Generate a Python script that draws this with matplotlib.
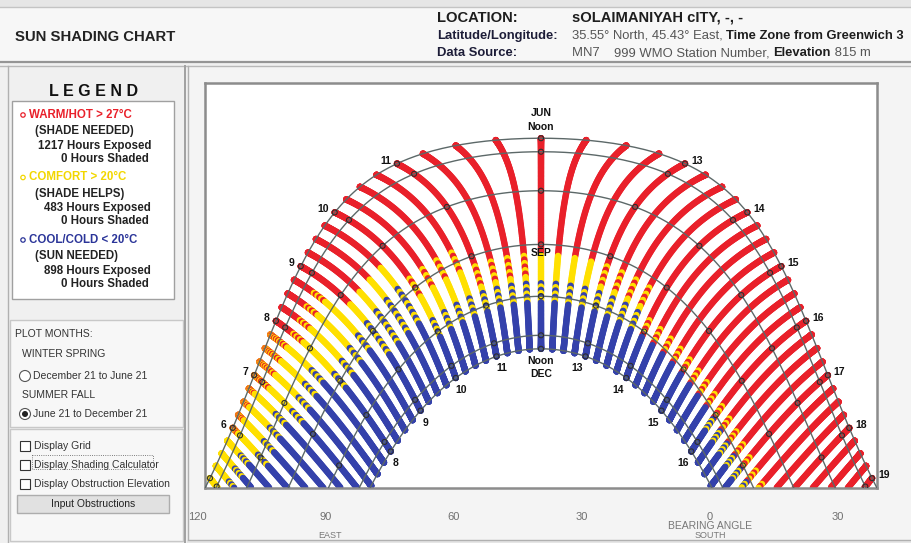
import numpy as np
import matplotlib.pyplot as plt
from matplotlib.patches import Rectangle, Circle

plt.rcParams['font.family'] = ['Liberation Sans', 'DejaVu Sans']

# site
latitude = 35.55

# plotted period: June 21 (day 172) to December 21 (day 355)
first_day = 172
last_day = 355
arc_days = [172, 202, 233, 264, 294, 325, 355]   # 21st of Jun..Dec
hour_lines = list(range(5, 20))
june_labels = [6, 7, 8, 9, 10, 11, 13, 14, 15, 16, 17, 18, 19]
dec_labels = [8, 9, 10, 11, 13, 14, 15, 16]

# temperature class, per two-week period (rows, Jun 21 -> Dec 21)
# and per hour 4..19 (columns). R hot, Y comfort, B cold, O red/yellow mix, G yellow/blue mix
temp_class = [
    "YYOORRRRRRRRRRRR",
    "YYOORRRRRRRRRRRR",
    "YYYORRRRRRRRRRRR",
    "GGYYORRRRRRRRRRR",
    "BBGYYRRRRRRRRRRR",
    "BBBGYYRRRRRRRRRR",
    "BBBBGGORRRRRRRRR",
    "BBBBBGYOYORRRROO",
    "BBBBBBGGGGOOOOOO",
    "BBBBBBBBBBBBGGYY",
    "BBBBBBBBBBBBBBGG",
    "BBBBBBBBBBBBBBBB",
    "BBBBBBBBBBBBBBBB",
]

legend_names = ['WARM/HOT > 27°C', 'COMFORT > 20°C', 'COOL/COLD < 20°C']
legend_notes = ['(SHADE NEEDED)', '(SHADE HELPS)', '(SUN NEEDED)']
hours_exposed = [1217, 483, 898]
hours_shaded = [0, 0, 0]

bearing_ticks = [120, 90, 60, 30, 0, -30]
bearing_labels = ['120', '90', '60', '30', '0', '30']

RED = '#e9202a'
YEL = '#ffe000'
BLUE = '#3441ab'
GRID = '#5c6868'


def sun(day, t):
    decl = np.radians(23.45 * np.sin(np.radians(360 / 365 * (284 + day))))
    H = np.radians((t - 12) * 15)
    phi = np.radians(latitude)
    alt = np.degrees(np.arcsin(np.sin(phi) * np.sin(decl) + np.cos(phi) * np.cos(decl) * np.cos(H)))
    az = np.degrees(np.arctan2(np.sin(H), np.cos(H) * np.sin(phi) - np.tan(decl) * np.cos(phi)))
    return az, alt


fig = plt.figure(figsize=(9.11, 5.43), dpi=100)
fig.patch.set_facecolor('#f0f0f0')

# ---- window chrome, drawn in pixel coordinates
bg = fig.add_axes([0, 0, 1, 1])
bg.set_xlim(0, 911)
bg.set_ylim(543, 0)
bg.axis('off')


def box(x0, y0, x1, y1, fc, ec='none', lw=1.0, z=1, ls='-'):
    bg.add_patch(Rectangle((x0, y0), x1 - x0, y1 - y0, fc=fc, ec=ec, lw=lw, zorder=z, ls=ls))


box(0, 0, 911, 7, '#e6e6e6')
box(0, 7, 911, 62, '#f7f7f7')
bg.plot([0, 911], [7, 7], color='#c4c4c4', lw=1)
bg.plot([0, 911], [62, 62], color='#959595', lw=1.6)
bg.plot([0, 911], [66, 66], color='#b8b8b8', lw=1)
box(189, 67, 911, 540, '#f4f4f4')
bg.plot([8, 8], [66, 543], color='#b0b0b0', lw=1)
bg.plot([185, 185], [66, 543], color='#a0a0a0', lw=1.4)
bg.plot([188, 188], [66, 543], color='#b0b0b0', lw=1)
box(188, 540, 911, 543, '#e6e6e6', z=2)
bg.plot([188, 911], [540, 540], color='#b0b0b0', lw=1, zorder=2)

# header
bg.text(15, 37, 'SUN SHADING CHART', fontsize=10.7, fontweight='bold', color='#222222', va='center')
renderer = fig.canvas.get_renderer()


def runs(x, y, parts, size):
    for s, w, c in parts:
        t = bg.text(x, y, s, fontsize=size, fontweight=w, color=c, va='center', ha='left')
        x += t.get_window_extent(renderer=renderer).width


bg.text(437, 18, 'LOCATION:', fontsize=10.6, fontweight='bold', color='#1e1e1e', va='center')
bg.text(572, 18, 'sOLAIMANIYAH cITY, -, -', fontsize=10.6, fontweight='bold', color='#1e1e1e', va='center')
bg.text(437, 36, 'Latitude/Longitude:', fontsize=9.4, fontweight='bold', color='#1d1d38', va='center')
runs(572, 36, [('35.55° North, 45.43° East, ', 'normal', '#555555'),
               ('Time Zone from Greenwich 3', 'bold', '#1e1e1e')], 9.4)
bg.text(437, 53, 'Data Source:', fontsize=9.4, fontweight='bold', color='#1d1d38', va='center')
runs(572, 53, [('MN7    ', 'normal', '#555555'),
               ('999 WMO Station Number, ', 'normal', '#555555'),
               ('Elevation', 'bold', '#1e1e1e'),
               (' 815 m', 'normal', '#555555')], 9.4)

# legend
bg.text(94, 91, 'L E G E N D', fontsize=11.5, fontweight='bold', color='#111111', ha='center', va='center')
box(12, 101, 174, 299, 'white', '#a0a0a0', 1, z=1)
name_colors = [RED, '#f2d700', '#2b3599']
for i, name in enumerate(legend_names):
    y0 = 115 + i * 62.5
    bg.add_patch(Circle((23, y0), 2.2, fc='none', ec=name_colors[i], lw=0.9, zorder=3))
    bg.text(29, y0, name, fontsize=8.3, fontweight='bold', color=name_colors[i], va='center')
    bg.text(35, y0 + 16, legend_notes[i], fontsize=8.3, fontweight='bold', color='#222222', va='center')
    bg.text(151, y0 + 31, f'{hours_exposed[i]} Hours Exposed', fontsize=8.3, fontweight='bold',
            color='#222222', va='center', ha='right')
    bg.text(149, y0 + 44, f'{hours_shaded[i]} Hours Shaded', fontsize=8.3, fontweight='bold',
            color='#222222', va='center', ha='right')

# plot months
box(10, 320, 183, 427, '#f7f7f7', '#c8c8c8', 1)
ui = dict(fontsize=7.5, color='#333333', va='center')
bg.text(15, 334, 'PLOT MONTHS:', **ui)
bg.text(22, 354, 'WINTER SPRING', **ui)
bg.add_patch(Circle((25, 376), 5.5, fc='white', ec='#555555', lw=0.8, zorder=3))
bg.text(33, 376, 'December 21 to June 21', **ui)
bg.text(22, 395, 'SUMMER FALL', **ui)
bg.add_patch(Circle((25, 414), 5.5, fc='white', ec='#555555', lw=0.8, zorder=3))
bg.add_patch(Circle((25, 414), 3.0, fc='#222222', ec='none', zorder=4))
bg.text(33, 414, 'June 21 to December 21', **ui)

# check boxes
box(10, 429, 183, 541, '#f7f7f7', '#c8c8c8', 1)
checks = ['Display Grid', 'Display Shading Calculator', 'Display Obstruction Elevation']
for i, label in enumerate(checks):
    yc = 446 + i * 19
    box(20, yc - 5, 30, yc + 5, 'white', '#333333', 0.8, z=3)
    bg.text(34, yc, label, **ui)
box(32, 455, 153, 469, 'none', '#555555', 0.6, z=3, ls=':')
box(17, 495, 169, 513, '#e1e1e1', '#adadad', 1, z=3)
bg.text(93, 504, 'Input Obstructions', fontsize=7.5, color='#222222', ha='center', va='center', zorder=4)

# bearing axis texts
bg.text(710, 526, 'BEARING ANGLE', fontsize=7.5, color='#777777', ha='center', va='center', zorder=5)
bg.text(330, 535, 'EAST', fontsize=6.5, color='#777777', ha='center', va='center', zorder=5)
bg.text(710, 535, 'SOUTH', fontsize=6.5, color='#777777', ha='center', va='center', zorder=5)

# ---- sun path chart
ax = fig.add_axes([205 / 911, (543 - 488) / 543, 672 / 911, 405 / 543])
ax.set_facecolor('white')
ax.set_xlim(-119.3, 119.3)
ax.set_ylim(0, 90.2)
ax.set_xticks([])
ax.set_yticks([])
for sp in ax.spines.values():
    sp.set_color('#8c8c8c')
    sp.set_linewidth(1.8)

# hourly dots for every day, every quarter hour of solar time
times = np.arange(4.75, 19.26, 0.25)
days = np.arange(first_day, last_day + 1)
D, T = np.meshgrid(days, times)
az, alt = sun(D, T)
period = np.minimum((D - first_day) // 14, len(temp_class) - 1)
col = np.clip(np.floor(T).astype(int) - 4, 0, 15)
colors = []
for p, c, d in zip(period.ravel(), col.ravel(), D.ravel()):
    code = temp_class[p][c]
    if code == 'R':
        colors.append(RED)
    elif code == 'Y':
        colors.append(YEL)
    elif code == 'B':
        colors.append(BLUE)
    elif code == 'O':
        colors.append(RED if (d // 2) % 2 == 0 else YEL)
    else:
        colors.append(YEL if (d // 2) % 2 == 0 else BLUE)
colors = np.array(colors)
m = alt.ravel() > 0
ax.scatter(az.ravel()[m], alt.ravel()[m], c=colors[m], s=22, linewidths=0, zorder=2)

# hour lines
dd = np.linspace(first_day, last_day, 400)
for h in hour_lines:
    a, e = sun(dd, h)
    k = e > 0
    ax.plot(a[k], e[k], color=GRID, lw=0.8, zorder=1.5)

# date arcs
phi = np.radians(latitude)
for d in arc_days:
    decl = np.radians(23.45 * np.sin(np.radians(360 / 365 * (284 + d))))
    h0 = np.degrees(np.arccos(-np.tan(phi) * np.tan(decl))) / 15
    tt = np.linspace(12 - h0, 12 + h0, 400)
    a, e = sun(d, tt)
    ax.plot(a, np.maximum(e, 0), color=GRID, lw=1.0, zorder=3)
    hh = np.array(hour_lines)
    a, e = sun(d, hh)
    k = e > 0
    ax.scatter(a[k], e[k], s=13, facecolors='none', edgecolors='#2e2e2e', linewidths=0.8, zorder=4)

lab = dict(fontsize=7.5, fontweight='bold', color='#111111', textcoords='offset pixels',
           va='center', annotation_clip=False, zorder=6)
for h in june_labels:
    a, e = sun(first_day, h)
    if h < 12:
        ax.annotate(str(h), (a, e), xytext=(-6, 3), ha='right', **lab)
    else:
        ax.annotate(str(h), (a, e), xytext=(6, 3), ha='left', **lab)
for h in dec_labels:
    a, e = sun(last_day, h)
    dx = 5 if h < 12 else -8
    ax.annotate(str(h), (a, e), xytext=(dx, -12), ha='center', **lab)

a, e = sun(first_day, 12)
ax.annotate('Noon', (a, e), xytext=(0, 11), ha='center', **lab)
ax.annotate('JUN', (a, e), xytext=(0, 25), ha='center', **lab)
a, e = sun(264, 12)
ax.annotate('SEP', (a, e), xytext=(0, -9), ha='center', **lab)
a, e = sun(last_day, 12)
ax.annotate('Noon', (a, e), xytext=(0, -12), ha='center', **lab)
ax.annotate('DEC', (a, e), xytext=(0, -25), ha='center', **lab)

# bearing angle scale under the frame
bax = fig.add_axes([180 / 911, (543 - 488) / 543, 700 / 911, 0.0001])
bax.set_xlim(120 + (197 - 180) / 4.275, -(880 - 710) / 4.275)
bax.set_facecolor('none')
bax.set_yticks([])
bax.set_xticks(bearing_ticks)
bax.set_xticklabels(bearing_labels)
bax.tick_params(axis='x', length=0, pad=17, labelsize=8, labelcolor='#707070')
for sp in bax.spines.values():
    sp.set_visible(False)

fig.savefig('out.png', dpi=100)
